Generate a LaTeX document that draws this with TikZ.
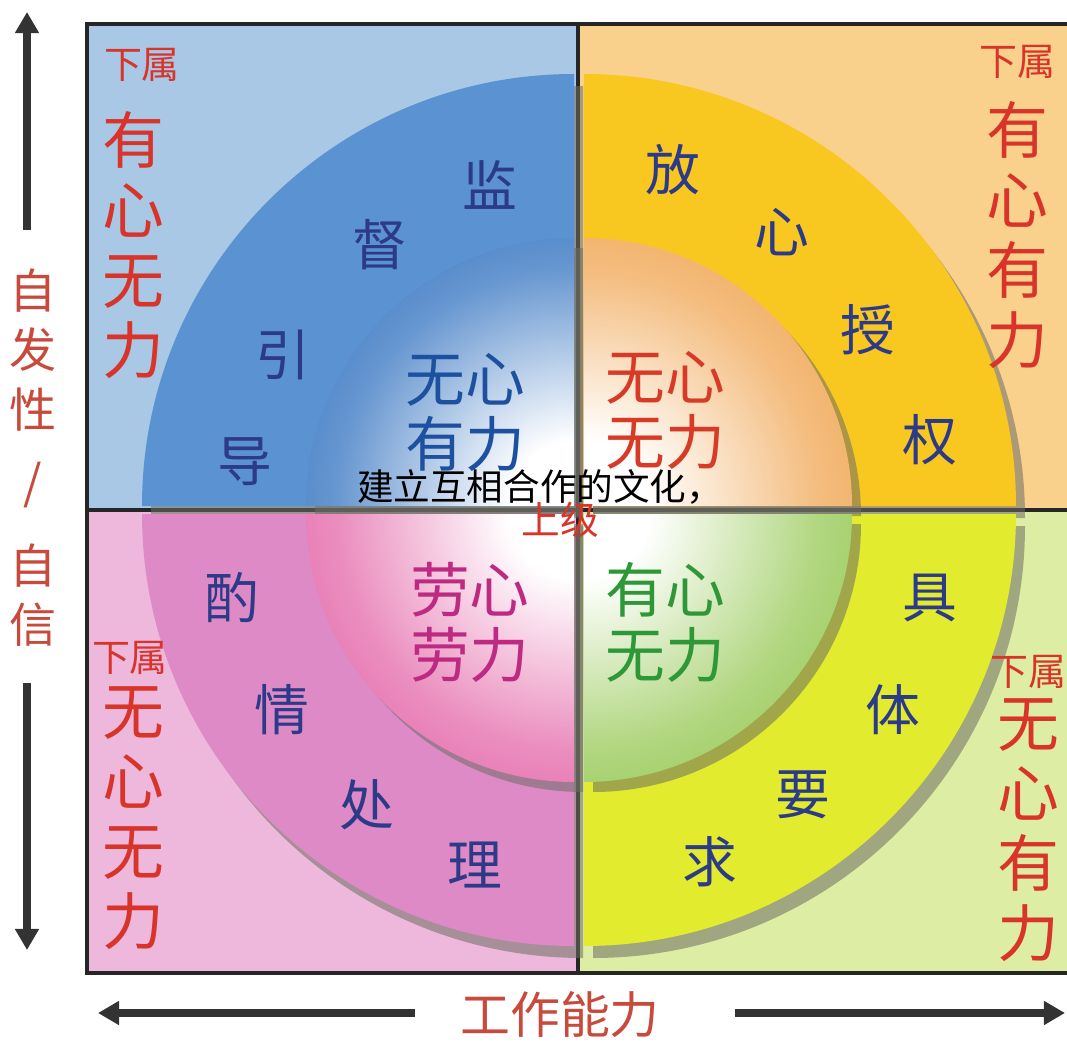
\documentclass[tikz,border=0pt]{standalone}
\usepackage{fontspec}
\setmainfont{Noto Sans CJK SC}
\usetikzlibrary{calc,positioning,arrows.meta}

\definecolor{bgTL}{HTML}{A8C8E6}
\definecolor{bgTR}{HTML}{F9D08C}
\definecolor{bgBL}{HTML}{EDB8DC}
\definecolor{bgBR}{HTML}{DDEEA4}
\definecolor{ringTL}{HTML}{5A92D2}
\definecolor{ringTR}{HTML}{F8C820}
\definecolor{ringBL}{HTML}{DE8AC6}
\definecolor{ringBR}{HTML}{E2EB2E}
\definecolor{inTL}{HTML}{1860B8}
\definecolor{inTR}{HTML}{EE9838}
\definecolor{inBL}{HTML}{E0509C}
\definecolor{inBR}{HTML}{86C03A}
\definecolor{labred}{HTML}{D8342A}
\definecolor{axred}{HTML}{C84A3C}
\definecolor{navy}{HTML}{2C3A88}
\definecolor{txblue}{HTML}{1E50A0}
\definecolor{txred}{HTML}{D83A28}
\definecolor{txmag}{HTML}{BE2A82}
\definecolor{txgreen}{HTML}{2E9838}
\definecolor{shadowc}{HTML}{6E6E64}
\colorlet{midTL}{inTL!65!white}
\colorlet{midTR}{inTR!65!white}
\colorlet{midBL}{inBL!65!white}
\colorlet{midBR}{inBR!65!white}

\pgfdeclareradialshading{diskTL}{\pgfpointorigin}{color(0bp)=(white); color(6bp)=(white); color(22bp)=(midTL); color(38bp)=(inTL); color(50bp)=(inTL)}
\pgfdeclareradialshading{diskTR}{\pgfpointorigin}{color(0bp)=(white); color(6bp)=(white); color(22bp)=(midTR); color(38bp)=(inTR); color(50bp)=(inTR)}
\pgfdeclareradialshading{diskBL}{\pgfpointorigin}{color(0bp)=(white); color(6bp)=(white); color(22bp)=(midBL); color(38bp)=(inBL); color(50bp)=(inBL)}
\pgfdeclareradialshading{diskBR}{\pgfpointorigin}{color(0bp)=(white); color(6bp)=(white); color(22bp)=(midBR); color(38bp)=(inBR); color(50bp)=(inBR)}

\tikzset{
	boxline/.style={draw=black!85, line width=1.1pt},
	shadowfill/.style={fill=shadowc, fill opacity=0.55},
	colbig/.style={text=labred, font=\fontsize{17.6}{19.9}\selectfont, align=center, inner sep=0pt},
	subtag/.style={text=labred, font=\fontsize{10.8}{12}\selectfont, inner sep=0pt},
	ringlbl/.style={text=navy, font=\fontsize{15.6}{18}\selectfont, inner sep=0pt},
	innerlbl/.style={font=\fontsize{17}{18.5}\selectfont, align=center, inner sep=0pt},
	axislbl/.style={text=axred, font=\fontsize{13.4}{17}\selectfont, align=center, inner sep=0pt},
	axisarrow/.style={draw=black!80, line width=2pt, -{Triangle[width=6.5pt,length=6pt]}},
}

\begin{document}
\begin{tikzpicture}[x=0.01cm,y=0.01cm]
	\useasboundingbox (-578,-532) rectangle (489,510);
	% quadrant backgrounds
	\fill[bgTL] (0,0) rectangle (-491,486);
	\fill[bgTR] (0,0) rectangle (495,486);
	\fill[bgBL] (0,0) rectangle (-491,-463);
	\fill[bgBR] (0,0) rectangle (495,-463);
	\draw[boxline] (-491,0) -- (495,0) (0,486) -- (0,-463);
	% outer ring
	\foreach \a/\dx/\dy in {0/6/4,90/-4/4,180/-4/-4,270/6/-4}
		\fill[shadowfill] (\dx+9,\dy-12) -- ++(\a:432) arc[start angle=\a,delta angle=90,radius=432] -- cycle;
	\foreach \a/\dx/\dy/\c in {0/6/4/ringTR,90/-4/4/ringTL,180/-4/-4/ringBL,270/6/-4/ringBR}
		\fill[\c] (\dx,\dy) -- ++(\a:432) arc[start angle=\a,delta angle=90,radius=432] -- cycle;
	% inner disk
	\foreach \a/\dx/\dy in {0/6/4,90/-4/4,180/-4/-4,270/6/-4}
		\fill[shadowfill] (\dx+9,\dy-10) -- ++(\a:268) arc[start angle=\a,delta angle=90,radius=268] -- cycle;
	\foreach \a/\dx/\dy/\s in {0/6/4/diskTR,90/-4/4/diskTL,180/-4/-4/diskBL,270/6/-4/diskBR}{
		\begin{scope}
			\clip (\dx,\dy) -- ++(\a:268) arc[start angle=\a,delta angle=90,radius=268] -- cycle;
			\shade[shading=\s] (\dx,\dy) circle (268);
		\end{scope}
	}
	\draw[boxline] (-491,-463) rectangle (495,486);

	% subordinate labels
	\node[subtag] (tagTL) at (-436,445) {下属};
	\node[colbig] (colTL) at (-445,265) {有\\心\\无\\力};
	\node[subtag] (tagTR) at (439,448) {下属};
	\node[colbig] (colTR) at (439,275) {有\\心\\有\\力};
	\node[subtag] (tagBL) at (-448,-148) {下属};
	\node[colbig] (colBL) at (-445,-308) {无\\心\\无\\力};
	\node[subtag] (tagBR) at (450,-162) {下属};
	\node[colbig] (colBR) at (450,-320) {无\\心\\有\\力};

	% ring labels
	\foreach \ch/\x/\y [count=\i] in {监/-88/325,督/-198/265,引/-295/155,导/-333/48,
		放/95/340,心/204/278,授/290/180,权/352/70,
		酌/-346/-88,情/-296/-200,处/-211/-295,理/-103/-355,
		具/352/-88,体/315/-200,要/225/-285,求/132/-352}
		\node[ringlbl] (ring\i) at (\x,\y) {\ch};

	% inner labels
	\node[innerlbl, text=txblue] (inTL) at (-113,98) {无心\\有力};
	\node[innerlbl, text=txred] (inTR) at (87,100) {无心\\无力};
	\node[innerlbl, text=txmag] (inBL) at (-108,-112) {劳心\\劳力};
	\node[innerlbl, text=txgreen] (inBR) at (87,-112) {有心\\无力};
	\node[inner sep=0pt, font=\fontsize{10.4}{12}\selectfont] (culture) at (-38,23) {建立互相合作的文化，};
	\node[inner sep=0pt, text=labred, font=\fontsize{11}{12}\selectfont] (boss) at (-18,-10) {上级};

	% axes
	\node[axislbl] (ax1) at (-545,160) {自\\发\\性};
	\node[axislbl] (ax2) at (-545,25) {/};
	\node[axislbl] (ax3) at (-545,-85) {自\\信};
	\coordinate (upS) at (-551,280);
	\coordinate (upE) at (-551,498);
	\coordinate (dnS) at (-551,-173);
	\coordinate (dnE) at (-551,-440);
	\draw[axisarrow] (upS) -- (upE);
	\draw[axisarrow] (dnS) -- (dnE);
	\node[axislbl, font=\fontsize{14.2}{17}\selectfont] (work) at (-18,-505) {工作能力};
	\coordinate (lfS) at (-163,-503);
	\coordinate (lfE) at (-480,-503);
	\coordinate (rtS) at (157,-503);
	\coordinate (rtE) at (487,-503);
	\draw[axisarrow] (lfS) -- (lfE);
	\draw[axisarrow] (rtS) -- (rtE);
\end{tikzpicture}
\end{document}
